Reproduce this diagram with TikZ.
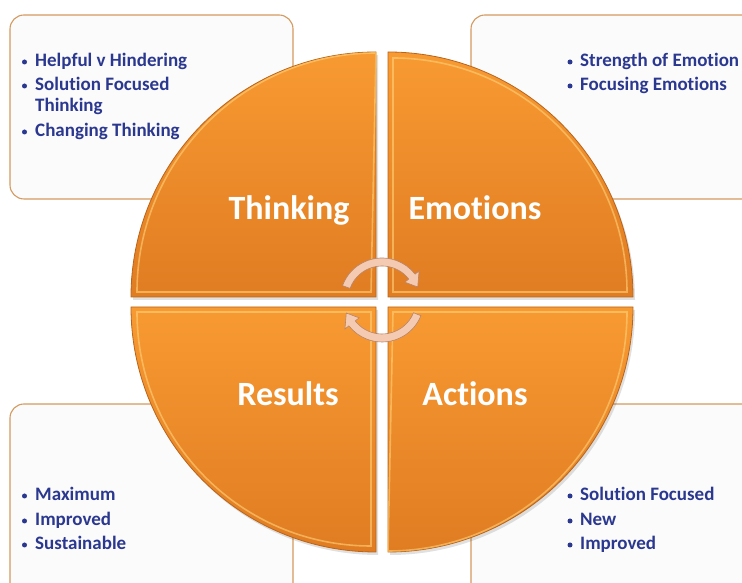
\documentclass[tikz,border=0pt]{standalone}
\usepackage{fontspec}
\setmainfont{Carlito}[Ligatures=NoCommon]
\usetikzlibrary{calc}
\definecolor{txtblue}{HTML}{2B3890}
\definecolor{boxline}{HTML}{D49A5F}
\definecolor{boxfill}{HTML}{FBFBFB}
\definecolor{orTop}{HTML}{F89A32}
\definecolor{orBot}{HTML}{E07C22}
\definecolor{orEdge}{HTML}{B9641A}
\definecolor{orHi}{HTML}{FFD27A}
\definecolor{arrFill}{HTML}{F4CBB2}
\definecolor{arrLine}{HTML}{B88468}
\tikzset{
  infobox/.style={draw=boxline, line width=1.1pt, fill=boxfill, rounded corners=14pt},
  quad/.style={top color=orTop, bottom color=orBot, draw=orEdge, line width=0.8pt},
  bevel/.style={draw=orHi, line width=1.6pt, opacity=0.6},
  qlabel/.style={text=white, font=\bfseries\fontsize{34}{38}\selectfont, anchor=base},
  item/.style={text=txtblue, font=\bfseries\fontsize{19}{22}\selectfont, anchor=base west, inner sep=0pt},
  bul/.style={fill=txtblue, circle, inner sep=0pt, minimum size=5pt},
  cyc/.style={fill=arrFill, draw=arrLine, line width=0.6pt}
}
\begin{document}
\begin{tikzpicture}[x=1pt,y=1pt]
\useasboundingbox (0,0) rectangle (742,583);
\clip (0,0) rectangle (742,583);
% text boxes
\draw[infobox] (10,384) rectangle (293,568);
\draw[infobox] (471,384) rectangle (775,568);
\draw[infobox] (10,-30) rectangle (293,179);
\draw[infobox] (471,-30) rectangle (775,179);
% quadrant shadows
\fill[black,opacity=0.12] (378,283) -- (133,283) arc[start angle=180,end angle=90,radius=245] -- cycle;
\fill[black,opacity=0.12] (390,283) -- (390,528) arc[start angle=90,end angle=0,radius=245] -- cycle;
\fill[black,opacity=0.12] (378,273) -- (378,28) arc[start angle=270,end angle=180,radius=245] -- cycle;
\fill[black,opacity=0.12] (390,273) -- (635,273) arc[start angle=0,end angle=-90,radius=245] -- cycle;
% quadrants
\path[quad] (376,286) -- (131,286) arc[start angle=180,end angle=90,radius=245] -- cycle;
\path[quad] (388,286) -- (388,531) arc[start angle=90,end angle=0,radius=245] -- cycle;
\path[quad] (376,276) -- (376,31) arc[start angle=270,end angle=180,radius=245] -- cycle;
\path[quad] (388,276) -- (633,276) arc[start angle=0,end angle=-90,radius=245] -- cycle;
% bevel highlights
\draw[bevel] (371,291) -- (137,291) arc[start angle=180,end angle=90,radius=239] -- cycle;
\draw[bevel] (393,291) -- (393,525) arc[start angle=90,end angle=0,radius=234] -- cycle;
\draw[bevel] (371,271) -- (371,37) arc[start angle=270,end angle=180,radius=234] -- cycle;
\draw[bevel] (393,271) -- (627,271) arc[start angle=0,end angle=-90,radius=239] -- cycle;
% labels
\node[qlabel] (thinking) at (289,363) {Thinking};
\node[qlabel] (emotions) at (475,363) {Emotions};
\node[qlabel] (results) at (288,177) {Results};
\node[qlabel] (actions) at (475,177) {Actions};
% cycle arrows
\begin{scope}[shift={(382,283)}]
\path[cyc] (160:42) arc[start angle=160,end angle=38,radius=42]
  -- (38:47) -- (20:38) -- (38:29) -- (38:34)
  arc[start angle=38,end angle=160,radius=34] -- cycle;
\path[cyc] (-22:42) arc[start angle=-22,end angle=-142,radius=42]
  -- (-142:47) -- (-160:38) -- (-142:29) -- (-142:34)
  arc[start angle=-142,end angle=-22,radius=34] -- cycle;
\end{scope}
% items top-left
\node[bul] (b1) at (24.5,521) {};
\node[item] (t1) at (35,516) {Helpful v Hindering};
\node[bul] (b2) at (24.5,497) {};
\node[item] (t2) at (35,492) {Solution Focused};
\node[item] (t2b) at (35,471) {Thinking};
\node[bul] (b3) at (24.5,451) {};
\node[item] (t3) at (35,446) {Changing Thinking};
% items top-right
\node[bul] (b4) at (570,521) {};
\node[item] (t4) at (580,516) {Strength of Emotion};
\node[bul] (b5) at (570,497) {};
\node[item] (t5) at (580,492) {Focusing Emotions};
% items bottom-left
\node[bul] (b6) at (24.5,87) {};
\node[item] (t6) at (35,82) {Maximum};
\node[bul] (b7) at (24.5,62) {};
\node[item] (t7) at (35,57) {Improved};
\node[bul] (b8) at (24.5,38) {};
\node[item] (t8) at (35,33) {Sustainable};
% items bottom-right
\node[bul] (b9) at (570,87) {};
\node[item] (t9) at (580,82) {Solution Focused};
\node[bul] (b10) at (570,62) {};
\node[item] (t10) at (580,57) {New};
\node[bul] (b11) at (570,38) {};
\node[item] (t11) at (580,33) {Improved};
\end{tikzpicture}
\end{document}
